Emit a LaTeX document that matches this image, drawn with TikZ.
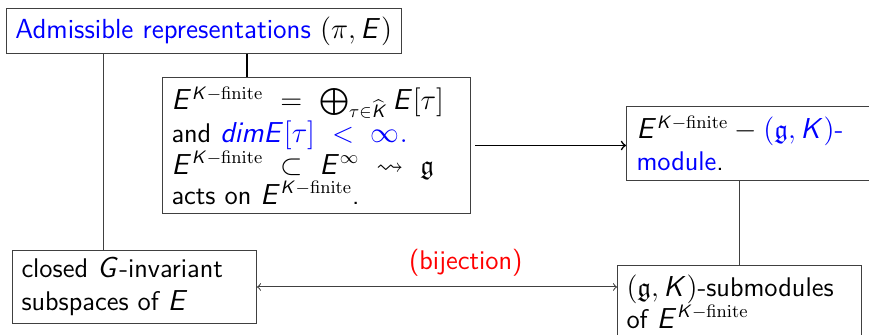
\documentclass[tikz,border=0pt]{standalone}
\usepackage{amssymb}
\usepackage{xcolor}
\renewcommand\familydefault{\sfdefault}
\DeclareSymbolFont{sfletters}{OT1}{cmss}{m}{sl}
\DeclareMathSymbol{E}{\mathalpha}{sfletters}{`E}
\DeclareMathSymbol{K}{\mathalpha}{sfletters}{`K}
\DeclareMathSymbol{G}{\mathalpha}{sfletters}{`G}
\DeclareMathSymbol{d}{\mathalpha}{sfletters}{`d}
\DeclareMathSymbol{i}{\mathalpha}{sfletters}{`i}
\DeclareMathSymbol{m}{\mathalpha}{sfletters}{`m}
\definecolor{bblue}{RGB}{0,0,255}
\definecolor{bred}{RGB}{255,0,0}
\newcommand{\Kfin}{E^{K-\mathrm{finite}}}
\begin{document}
\begin{tikzpicture}[x=0.5pt,y=-0.5pt,
  box/.style={draw=black!75, line width=0.5pt, inner xsep=4.5pt, inner ysep=2pt,
    align=left, anchor=north west, font=\fontsize{13.5}{15}\selectfont},
  thinline/.style={draw=black!75, line width=0.5pt},
  thickline/.style={draw=black, line width=1pt},
  arr/.style={draw=black, line width=0.8pt, ->},
  darr/.style={draw=black!75, line width=0.5pt, <->}]
\useasboundingbox (0,0) rectangle (869,335);

\node[box, minimum width=197.5pt, minimum height=22.5pt, text width=188.5pt,
  font=\fontsize{13.8}{16}\selectfont] (A) at (6,8)
  {\textcolor{bblue}{Admissible representations} $(\pi, E)$};

\node[box, minimum width=154pt, minimum height=68pt, text width=145pt, inner xsep=4.5pt] (B) at (162,77)
  {$\Kfin\ =\ \bigoplus_{\tau\in\widehat{K}} E[\tau]$\\
   and \textcolor{bblue}{$dimE[\tau]\ <\ \infty.$}\\
   $\Kfin\ \subset\ E^{\infty}\ \rightsquigarrow\ \mathfrak{g}$\\
   acts on $\Kfin$.};

\node[box, minimum width=130pt, minimum height=37pt, text width=121pt, inner xsep=5pt,
  font=\fontsize{13.5}{16}\selectfont] (C) at (626,106)
  {$\Kfin - \textcolor{bblue}{(\mathfrak{g}, K)}$\textcolor{bblue}{-}\\
   \textcolor{bblue}{module}.};

\node[box, minimum width=122pt, minimum height=36.5pt, text width=113pt,
  font=\fontsize{13.5}{16.5}\selectfont] (L) at (12,250)
  {closed $G$-invariant\\ subspaces of $E$};

\node[box, minimum width=122pt, minimum height=36pt, text width=113pt] (D) at (617,265)
  {$(\mathfrak{g}, K)$-submodules\\ of $\Kfin$};

\draw[thinline] ([xshift=48.5pt]A.south west) -- ([xshift=48.5pt]A.south west |- L.north);
\draw[thickline] ([xshift=120.5pt]A.south west) -- ([xshift=120.5pt]A.south west |- B.north);
\draw[arr] ([xshift=2pt]B.east) -- (B.east -| C.west);
\draw[thinline] ([xshift=56.5pt]C.south west) -- ([xshift=56.5pt]C.south west |- D.north);
\draw[darr] (L.east) -- node[pos=0.58, above=2pt, text=bred, font=\fontsize{13.5}{15}\selectfont] (bij) {(bijection)} (L.east -| D.west);
\end{tikzpicture}
\end{document}
